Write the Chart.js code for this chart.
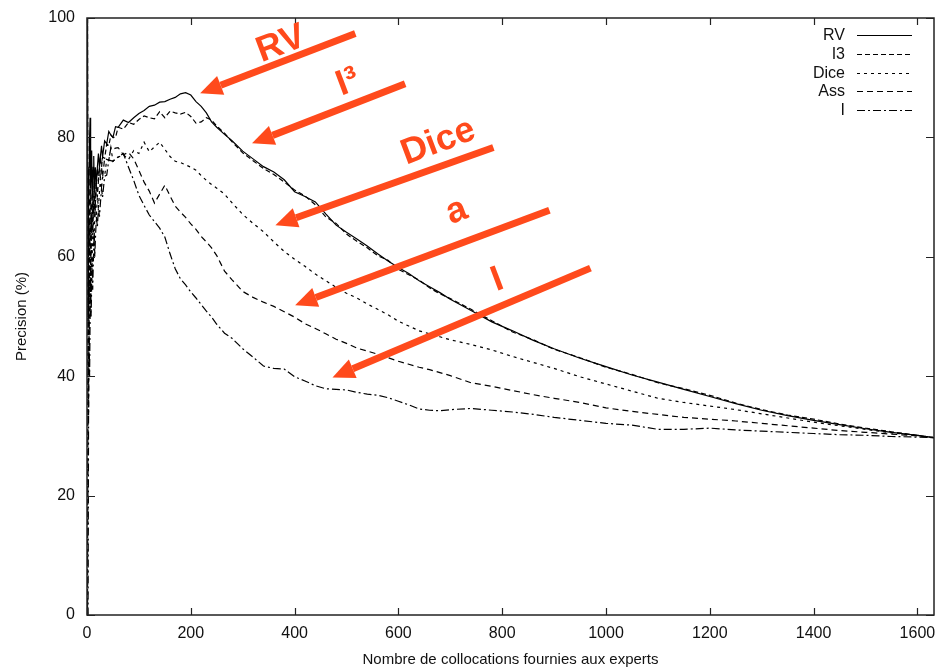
<!DOCTYPE html>
<html>
<head>
<meta charset="utf-8">
<script src="https://cdn.jsdelivr.net/npm/chart.js@4.4.1/dist/chart.umd.min.js"></script>
<style>
html,body{margin:0;padding:0;background:#fff}
#wrap{width:941px;height:669px}
</style>
</head>
<body>
<div id="wrap"><canvas id="c"></canvas></div>
<script>
// number of collocations shown to the experts
const ranks=[1,2,3,4,5,6,7,8,9,10,11,12,13,14,15,16,
  18,20,22,24,26,28,30,
  34,38,42,46,50,55,60,
  70,80,90,100,110,120,130,140,150,160,170,180,190,200,210,220,230,240,250,
  265,280,
  300,320,340,360,380,400,420,440,460,480,500,520,540,560,580,600,620,640,660,680,700,
  740,780,820,860,900,
  950,1000,1050,1100,1150,1200,1250,1300,1350,1400,1450,1500,1550,1600,1632];

const rv=[100,50,66.7,75,80,83.3,71.4,75,77.8,70,72.7,75,76.9,71.4,73.3,75,
  72.2,75,77.3,75,76.9,78.6,76.7,
  79.4,78.9,81,80.4,80,81.8,81.7,
  82.9,82.5,83.3,84,84.5,85.2,85.4,85.9,86,86.4,86.7,87.3,87.5,87.1,86,85.2,84.1,82.6,81.7,
  80.5,79.4,
  77.7,76.4,75.1,74.2,72.9,70.9,70.1,69.2,67.2,65.3,64.1,63,61.8,60.5,59.3,58.2,57.2,56,55,54,52.9,
  51,49.1,47.6,46,44.6,
  43,41.6,40.2,39,37.8,36.6,35.4,34.3,33.4,32.6,31.9,31.2,30.6,30.1,29.7];

const i3=[100,50,33.3,50,60,66.7,57.1,62.5,66.7,70,63.6,66.7,69.2,71.4,66.7,68.8,
  72.2,70,72.7,75,73.1,75,76.7,
  76.5,78.9,78.6,80.4,80,80,81.7,
  81.4,82.5,82.2,83,83.6,83.3,83.1,84.3,83.3,84.4,84.1,83.9,84.2,83.5,82.4,82.6,83.3,82.9,81.9,
  80.7,79.2,
  77.4,76.1,74.8,73.8,72.5,71.2,70.2,68.7,66.7,65.6,63.8,62.6,61.5,60.2,59.4,57.9,57,56.1,54.8,53.8,53,
  51.2,49.3,47.4,46.1,44.5,
  43.1,41.5,40.3,38.9,37.9,36.8,35.5,34.4,33.5,32.8,32,31.3,30.7,30.1,29.7];

const dice=[0,50,66.7,50,60,50,57.1,62.5,55.6,60,63.6,66.7,61.5,64.3,66.7,68.8,
  66.7,70,68.2,70.8,73.1,71.4,73.3,
  73.5,76.3,76.2,78.3,76,76.4,76.7,
  77.1,76.3,77.8,77.3,79.2,77.6,78.4,79.2,78,76.8,76,75.8,75.4,75,74.5,73.6,72.8,72.1,71.5,
  70.5,69,
  67.1,65.6,64.2,62.5,60.9,59.6,58.4,57.1,56,54.9,53.9,53.1,52.1,51.2,50.3,49.2,48.4,47.6,47.1,46.6,46.1,
  45.3,44.4,43.3,42.3,41.3,
  39.9,38.7,37.5,36.3,35.6,35,34.4,33.7,33,32.3,31.7,31.1,30.5,30.1,29.7];

const ass=[0,50,66.7,75,60,66.7,71.4,62.5,66.7,70,72.7,66.7,69.2,71.4,73.3,68.8,
  72.2,75,72.7,75,76.9,75,73.3,
  76.5,76.3,76.2,78.3,78,78.2,78.3,
  77.1,77.5,76.4,74.5,72.5,71,69,70.5,72,70.2,68.5,67.5,66.6,65.5,64.6,63.4,62.5,61.5,60.2,
  57.6,56.1,
  54.2,53.2,52.4,51.7,50.8,49.9,48.8,48,47.1,46.2,45.5,44.7,44.2,43.7,43.1,42.5,42,41.5,41.1,40.6,40.1,
  38.9,38.3,37.6,36.9,36.3,
  35.6,34.7,34.1,33.6,33.1,32.8,32.5,32.1,31.7,31.3,30.9,30.6,30.3,30,29.7];

const inf=[0,0,33.3,50,40,50,57.1,50,55.6,60,54.5,58.3,61.5,64.3,60,62.5,
  66.7,65,68.2,66.7,69.2,71.4,70,
  73.5,73.7,76.2,76.1,76,76.4,76.7,
  77.3,75,72.8,70.3,68.6,67,65.9,64.8,63.3,60.5,58,56.3,55.3,54.1,53.1,52,50.9,49.9,48.7,
  47.2,46.3,
  44.6,43.2,41.7,41.3,41.2,39.9,39.2,38.4,37.9,37.8,37.7,37.3,37,36.8,36.4,35.8,35.2,34.5,34.3,34.2,34.4,
  34.6,34.3,34,33.6,33.1,
  32.6,32.1,31.8,31.1,31.1,31.3,31,30.8,30.6,30.4,30.2,30.1,29.9,29.8,29.7];

const names=['RV','I3','Dice','Ass','I'];
const series=[rv,i3,dice,ass,inf];
const dashes=[[],[5,3],[3,4],[6,4],[8,3,2,3]];

const xTicks=[0,200,400,600,800,1000,1200,1400,1600];
const yTicks=[0,20,40,60,80,100];

// red notes drawn over the plot (data units)
const noteText=['RV','I³','Dice','a','I'];
const noteAt=[[374,95.6],[503,89.2],[677,79.2],[712,67.6],[791,56.1]];
const arrowFrom=[[517,97.4],[613,89],[783,78.3],[891,67.8],[970,58.1]];
const arrowTo=[[218,87.4],[318,79],[363,65.3],[401,51.9],[473,39.8]];

const RED='#ff4a1c';
const FONT='"Liberation Sans", Arial, sans-serif';

function arrow(ctx,x1,y1,x2,y2){
  const a=Math.atan2(y2-y1,x2-x1);
  const hl=22, hw=10;
  const bx=x2-hl*Math.cos(a), by=y2-hl*Math.sin(a);
  ctx.beginPath();ctx.moveTo(x1,y1);ctx.lineTo(bx,by);ctx.stroke();
  ctx.beginPath();
  ctx.moveTo(x2,y2);
  ctx.lineTo(bx+hw*Math.sin(a),by-hw*Math.cos(a));
  ctx.lineTo(bx-hw*Math.sin(a),by+hw*Math.cos(a));
  ctx.closePath();ctx.fill();
}

const frame={
  id:'frame',
  afterDatasetsDraw(chart){
    const ctx=chart.ctx, a=chart.chartArea, xs=chart.scales.x, ys=chart.scales.y;
    ctx.save();
    ctx.strokeStyle='#222';ctx.lineWidth=1.5;
    ctx.strokeRect(a.left,a.top,a.right-a.left,a.bottom-a.top);
    ctx.lineWidth=1.2;
    ctx.beginPath();
    xTicks.forEach(v=>{
      const p=Math.round(xs.getPixelForValue(v))+0.5;
      ctx.moveTo(p,a.bottom);ctx.lineTo(p,a.bottom-7);
      ctx.moveTo(p,a.top);ctx.lineTo(p,a.top+7);
    });
    yTicks.forEach(v=>{
      const p=Math.round(ys.getPixelForValue(v))+0.5;
      ctx.moveTo(a.left,p);ctx.lineTo(a.left+8,p);
      ctx.moveTo(a.right,p);ctx.lineTo(a.right-8,p);
    });
    ctx.stroke();
    // key
    ctx.font='16px '+FONT;ctx.fillStyle='#111';
    ctx.textAlign='right';ctx.textBaseline='middle';
    names.forEach((n,i)=>{
      const y=Math.round(a.top+17+i*18.8)+0.5;
      ctx.fillText(n,a.right-89,y);
      ctx.setLineDash(dashes[i]);ctx.strokeStyle='#000';ctx.lineWidth=1.2;
      ctx.beginPath();ctx.moveTo(a.right-77,y);ctx.lineTo(a.right-22,y);ctx.stroke();
    });
    ctx.setLineDash([]);
    // red notes
    ctx.strokeStyle=RED;ctx.fillStyle=RED;ctx.lineWidth=7;
    arrowFrom.forEach((f,i)=>{
      arrow(ctx,xs.getPixelForValue(f[0]),ys.getPixelForValue(f[1]),
        xs.getPixelForValue(arrowTo[i][0]),ys.getPixelForValue(arrowTo[i][1]));
    });
    ctx.font='bold 36px '+FONT;ctx.textAlign='center';
    noteText.forEach((t,i)=>{
      ctx.save();
      ctx.translate(xs.getPixelForValue(noteAt[i][0]),ys.getPixelForValue(noteAt[i][1]));
      ctx.rotate(-0.36);
      ctx.fillText(t,0,0);
      ctx.restore();
    });
    ctx.restore();
  }
};

new Chart(document.getElementById('c'),{
  type:'line',
  data:{
    datasets:series.map((s,i)=>({
      label:names[i],
      data:ranks.map((r,k)=>({x:r,y:s[k]})),
      borderColor:'#000',
      borderWidth:1.2,
      borderDash:dashes[i],
      pointRadius:0,
      tension:0,
      fill:false
    }))
  },
  options:{
    responsive:true,
    maintainAspectRatio:false,
    animation:false,
    devicePixelRatio:1,
    layout:{padding:{top:18,right:7,left:0,bottom:0}},
    plugins:{legend:{display:false},tooltip:{enabled:false}},
    scales:{
      x:{
        type:'linear',min:0,max:1632,
        afterBuildTicks:s=>{s.ticks=xTicks.map(v=>({value:v}));},
        afterFit:s=>{s.height=54;},
        grid:{display:false},border:{display:false},
        ticks:{font:{size:16,family:FONT},color:'#111',padding:1,maxRotation:0,
          callback:v=>String(v)},
        title:{display:true,text:'Nombre de collocations fournies aux experts',
          font:{size:15,family:FONT},color:'#111',padding:{top:0,bottom:0}}
      },
      y:{
        min:0,max:100,
        afterBuildTicks:s=>{s.ticks=yTicks.map(v=>({value:v}));},
        afterFit:s=>{s.width=87;},
        grid:{display:false},border:{display:false},
        ticks:{font:{size:16,family:FONT},color:'#111',padding:4,
          callback:v=>String(v)},
        title:{display:true,text:'Precision (%)',
          font:{size:15,family:FONT},color:'#111',padding:{top:13,bottom:0}}
      }
    }
  },
  plugins:[frame]
});
</script>
</body>
</html>
